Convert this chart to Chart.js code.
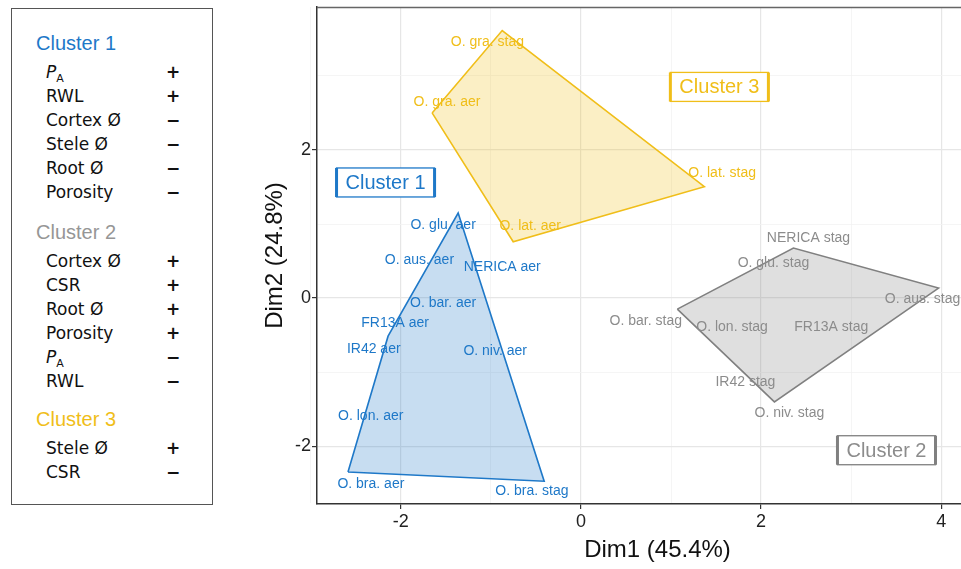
<!DOCTYPE html>
<html>
<head>
<meta charset="utf-8">
<script src="https://cdn.jsdelivr.net/npm/chart.js@4.4.0/dist/chart.umd.min.js"></script>
<style>
  html, body { margin: 0; padding: 0; background: #fff; overflow: hidden; width: 961px; height: 569px; }
  #wrap { position: absolute; left: 0; top: 0; width: 1000px; height: 569px; }
  #legend { position: absolute; left: 11px; top: 8px; width: 202px; height: 497px; border: 1px solid #555; box-sizing: border-box; background: #fff; }
  .head { position: absolute; left: 24px; font-family: "Liberation Sans", Arial, sans-serif; font-size: 20px; line-height: 24px; white-space: nowrap; }
  .item { position: absolute; left: 34px; font-family: "DejaVu Sans", sans-serif; font-size: 17px; line-height: 24px; color: #111; white-space: nowrap; }
  .item sub { font-size: 11px; font-style: normal; vertical-align: -4px; line-height: 0; }
  .sign { position: absolute; left: 153px; width: 16px; text-align: center; font-family: "DejaVu Sans", sans-serif; font-size: 17px; line-height: 24px; font-weight: bold; color: #111; }
</style>
</head>
<body>
<div id="wrap"><canvas id="pca" width="1000" height="569"></canvas></div>
<div id="legend"></div>
<script>
// samples, their cluster and PCA coordinates (Dim1, Dim2)
const sampleNames = ['O. glu. aer', 'O. aus. aer', 'NERICA aer', 'O. bar. aer', 'FR13A aer',
  'IR42 aer', 'O. niv. aer', 'O. lon. aer', 'O. bra. aer', 'O. bra. stag',
  'NERICA stag', 'O. glu. stag', 'O. aus. stag', 'O. bar. stag', 'O. lon. stag',
  'FR13A stag', 'IR42 stag', 'O. niv. stag',
  'O. gra. stag', 'O. gra. aer', 'O. lat. aer', 'O. lat. stag'];
const sampleCluster = [0, 0, 0, 0, 0, 0, 0, 0, 0, 0, 1, 1, 1, 1, 1, 1, 1, 1, 2, 2, 2, 2];
const dim1 = [-1.363, -1.563, -1.319, -1.563, -2.141, -2.008, -0.986, -2.230, -2.586, -0.408,
  2.359, 2.159, 3.970, 1.070, 1.681, 2.770, 1.970, 2.148,
  -0.874, -1.652, -0.752, 1.370];
const dim2 = [1.149, 0.405, 0.378, -0.095, -0.514, -0.635, -0.716, -1.649, -2.347, -2.473,
  0.676, 0.405, 0.135, -0.149, -0.324, -0.324, -1.041, -1.401,
  3.612, 2.500, 0.761, 1.504];
// repelled label anchors (Dim1, Dim2)
const labelDim1 = [-1.530, -1.793, -0.874, -1.530, -2.063, -2.300, -0.952, -2.333, -2.332, -0.544,
  2.526, 2.137, 3.792, 0.720, 1.678, 2.779, 1.826, 2.314,
  -1.038, -1.486, -0.563, 1.568];
const labelDim2 = [0.986, 0.514, 0.423, -0.068, -0.334, -0.689, -0.716, -1.595, -2.518, -2.604,
  0.811, 0.477, -0.014, -0.311, -0.388, -0.392, -1.131, -1.554,
  3.450, 2.639, 0.973, 1.685];

const clusterNames = ['Cluster 1', 'Cluster 2', 'Cluster 3'];
const clusterLabelDim1 = [-2.169, 3.392, 1.537];
const clusterLabelDim2 = [1.561, -2.054, 2.851];

const xTicks = [-2, 0, 2, 4];
const yTicks = [-2, 0, 2];

const legendVars = [
  ['P_A', 'RWL', 'Cortex Ø', 'Stele Ø', 'Root Ø', 'Porosity'],
  ['Cortex Ø', 'CSR', 'Root Ø', 'Porosity', 'P_A', 'RWL'],
  ['Stele Ø', 'CSR']
];
const legendSigns = [
  ['+', '+', '−', '−', '−', '−'],
  ['+', '+', '+', '+', '−', '−'],
  ['+', '−']
];

// styling
const lineColors = ['rgb(30,120,200)', 'rgb(128,128,128)', 'rgb(240,190,25)'];
const fillColors = ['rgba(30,120,200,0.25)', 'rgba(128,128,128,0.25)', 'rgba(240,190,25,0.25)'];
const textColors = ['rgb(30,120,200)', 'rgb(140,140,140)', 'rgb(240,190,25)'];
const headColors = ['rgb(30,120,200)', 'rgb(150,150,150)', 'rgb(240,190,25)'];
const headCenters = [43, 232, 419];

// legend panel
const legend = document.getElementById('legend');
clusterNames.forEach((name, k) => {
  const h = document.createElement('div');
  h.className = 'head';
  h.style.top = (headCenters[k] - 9 - 12) + 'px';
  h.style.color = headColors[k];
  h.textContent = name;
  legend.appendChild(h);
  legendVars[k].forEach((v, r) => {
    const top = headCenters[k] + 29 + r * 24 - 9 - 12;
    const it = document.createElement('div');
    it.className = 'item';
    it.style.top = top + 'px';
    if (v === 'P_A') it.innerHTML = '<i>P</i><sub>A</sub>';
    else it.textContent = v;
    legend.appendChild(it);
    const s = document.createElement('div');
    s.className = 'sign';
    s.style.top = top + 'px';
    s.textContent = legendSigns[k][r];
    legend.appendChild(s);
  });
});

// convex hull (monotone chain)
function hull(pts) {
  pts = pts.slice().sort((a, b) => a.x - b.x || a.y - b.y);
  const cross = (o, a, b) => (a.x - o.x) * (b.y - o.y) - (a.y - o.y) * (b.x - o.x);
  const lower = [], upper = [];
  for (const p of pts) {
    while (lower.length >= 2 && cross(lower[lower.length - 2], lower[lower.length - 1], p) <= 0) lower.pop();
    lower.push(p);
  }
  for (let i = pts.length - 1; i >= 0; i--) {
    const p = pts[i];
    while (upper.length >= 2 && cross(upper[upper.length - 2], upper[upper.length - 1], p) <= 0) upper.pop();
    upper.push(p);
  }
  upper.pop(); lower.pop();
  const h = lower.concat(upper);
  h.push(h[0]);
  return h;
}

const datasets = clusterNames.map((name, k) => {
  const pts = [];
  sampleNames.forEach((s, i) => { if (sampleCluster[i] === k) pts.push({x: dim1[i], y: dim2[i]}); });
  return {
    label: name,
    data: hull(pts),
    showLine: true,
    fill: 'shape',
    borderColor: lineColors[k],
    backgroundColor: fillColors[k],
    borderWidth: 1.6,
    pointRadius: 0,
    tension: 0
  };
});

const isMajor = v => Math.abs(Math.round(v)) % 2 === 0;

const labelPlugin = {
  id: 'pcaLabels',
  afterDatasetsDraw(chart) {
    const {ctx, chartArea, scales: {x, y}} = chart;
    ctx.save();
    // top panel border
    ctx.strokeStyle = '#666';
    ctx.lineWidth = 1.5;
    ctx.beginPath();
    ctx.moveTo(chartArea.left, chartArea.top + 0.5);
    ctx.lineTo(chartArea.right, chartArea.top + 0.5);
    ctx.stroke();

    ctx.font = '14px "Liberation Sans", Arial, sans-serif';
    ctx.textAlign = 'center';
    ctx.textBaseline = 'middle';
    sampleNames.forEach((name, i) => {
      ctx.fillStyle = textColors[sampleCluster[i]];
      ctx.fillText(name, x.getPixelForValue(labelDim1[i]), y.getPixelForValue(labelDim2[i]));
    });

    ctx.font = '20px "Liberation Sans", Arial, sans-serif';
    clusterNames.forEach((name, k) => {
      const cx = x.getPixelForValue(clusterLabelDim1[k]);
      const cy = y.getPixelForValue(clusterLabelDim2[k]);
      const w = ctx.measureText(name).width + 18, h = 29;
      ctx.fillStyle = '#fff';
      ctx.fillRect(cx - w / 2, cy - h / 2, w, h);
      ctx.strokeStyle = lineColors[k];
      ctx.lineWidth = 1.3;
      ctx.strokeRect(cx - w / 2, cy - h / 2, w, h);
      ctx.lineWidth = 3;
      ctx.beginPath();
      ctx.moveTo(cx - w / 2, cy - h / 2); ctx.lineTo(cx - w / 2, cy + h / 2);
      ctx.moveTo(cx + w / 2, cy - h / 2); ctx.lineTo(cx + w / 2, cy + h / 2);
      ctx.stroke();
      ctx.fillStyle = textColors[k];
      ctx.fillText(name, cx, cy + 1);
    });
    ctx.restore();
  }
};

new Chart(document.getElementById('pca'), {
  type: 'scatter',
  data: {datasets},
  plugins: [labelPlugin],
  options: {
    responsive: false,
    animation: false,
    layout: {padding: {left: 0, top: 7, right: 2, bottom: 0}},
    plugins: {legend: {display: false}, tooltip: {enabled: false}},
    events: [],
    scales: {
      x: {
        type: 'linear',
        min: -2.93, max: 4.63,
        afterFit: s => { s.height = 65; s.paddingLeft = 0; s.paddingRight = 0; },
        afterBuildTicks: s => { s.ticks = [-3, -2, -1, 0, 1, 2, 3, 4].map(v => ({value: v})); },
        ticks: {
          includeBounds: false,
          padding: 2,
          color: '#222',
          font: {family: '"Liberation Sans", Arial', size: 18},
          callback: v => xTicks.includes(v) ? String(v) : ''
        },
        grid: {
          color: c => isMajor(c.tick.value) ? '#e6e6e6' : '#f3f3f3',
          lineWidth: c => isMajor(c.tick.value) ? 1.2 : 0.8,
          tickColor: c => isMajor(c.tick.value) ? '#333' : 'rgba(0,0,0,0)',
          tickLength: 5
        },
        border: {color: '#333', width: 1.5},
        title: {
          display: true, text: 'Dim1 (45.4%)', color: '#111',
          font: {family: '"Liberation Sans", Arial', size: 24},
          padding: {top: 0, bottom: 4.6}
        }
      },
      y: {
        type: 'linear',
        min: -2.78, max: 3.93,
        afterFit: s => { s.width = 317; s.paddingTop = 0; s.paddingBottom = 0; },
        afterBuildTicks: s => { s.ticks = [-2, -1, 0, 1, 2, 3].map(v => ({value: v})); },
        ticks: {
          includeBounds: false,
          padding: 1,
          color: '#222',
          font: {family: '"Liberation Sans", Arial', size: 18},
          callback: v => yTicks.includes(v) ? String(v) : ''
        },
        grid: {
          color: c => isMajor(c.tick.value) ? '#e6e6e6' : '#f3f3f3',
          lineWidth: c => isMajor(c.tick.value) ? 1.2 : 0.8,
          tickColor: c => isMajor(c.tick.value) ? '#333' : 'rgba(0,0,0,0)',
          tickLength: 5
        },
        border: {color: '#333', width: 1.5},
        title: {
          display: true, text: 'Dim2 (24.8%)', color: '#111',
          font: {family: '"Liberation Sans", Arial', size: 24},
          padding: {top: 260.6, bottom: 0}
        }
      }
    }
  }
});
</script>
</body>
</html>
